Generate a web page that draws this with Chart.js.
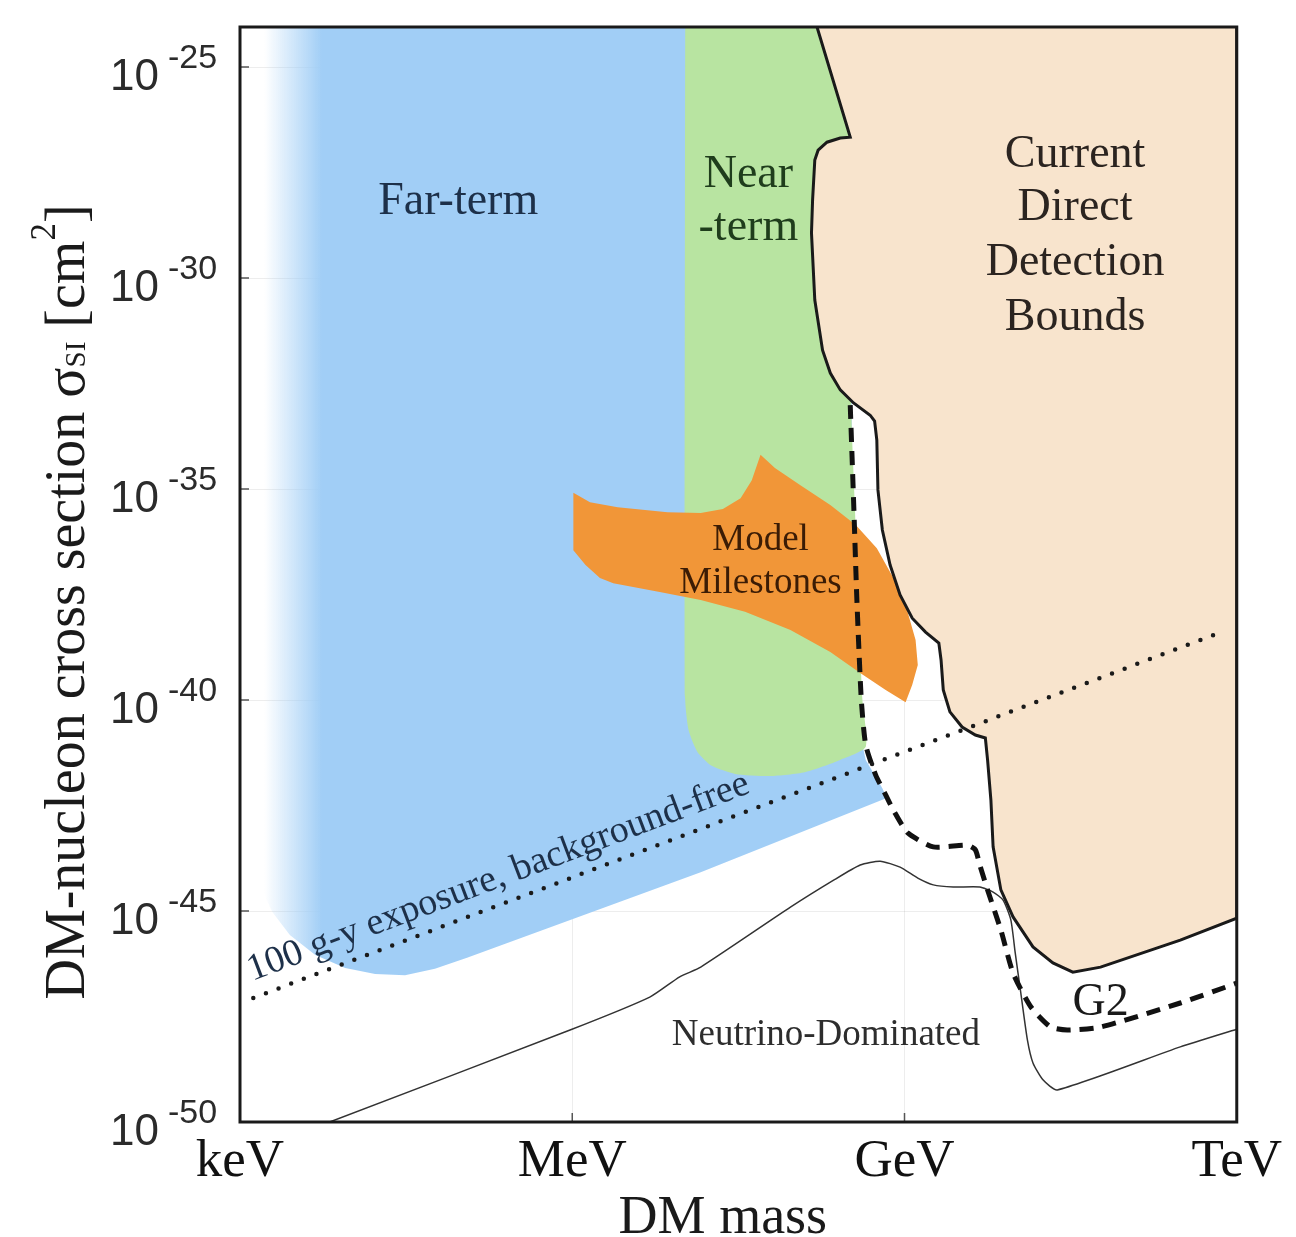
<!DOCTYPE html>
<html>
<head>
<meta charset="utf-8">
<script src="https://cdn.jsdelivr.net/npm/chart.js@4.4.1/dist/chart.umd.min.js"></script>
<style>
  html, body { margin: 0; padding: 0; background: #fff; }
</style>
</head>
<body>
<canvas id="myChart" width="1296" height="1237"></canvas>
<script>
// x: log10(mass / GeV), y: log10(sigma / cm^2)
const massTicks = [-6, -3, 0, 3];
const massLabels = ['keV', 'MeV', 'GeV', 'TeV'];
const sigmaTicks = [-50, -45, -40, -35, -30, -25];
const sigmaTop = -24.05;

/* Far-term region */
const farX = [-5.80, -5.80, -5.71, -5.55, -5.32, -5.05, -4.78, -4.51, -4.24, -3.95, -1.84, -0.16, -0.20, -0.35, -0.43, -0.47, -0.49];
const farY = [-24.05, -44.50, -45.02, -45.57, -46.04, -46.35, -46.49, -46.52, -46.37, -46.11, -44.08, -42.32, -42.09, -41.42, -40.47, -38.82, -24.05];

/* Near-term region */
const nearX = [-1.98, -1.98, -1.95, -1.87, -1.74, -1.53, -1.21, -0.90, -0.58, -0.35, -0.38, -0.42, -0.45, -0.48, -0.48];
const nearY = [-24.05, -40.00, -40.71, -41.23, -41.56, -41.75, -41.80, -41.71, -41.42, -41.11, -40.00, -37.63, -35.26, -33.13, -24.05];

/* Model milestones */
const mileX = [-2.99, -2.84, -2.59, -2.14, -1.84, -1.64, -1.48, -1.38, -1.30, -1.17, -0.94, -0.67, -0.44, -0.25, -0.10, 0.01, 0.10, 0.12, 0.07, 0.01, -0.17, -0.40, -0.67, -1.03, -1.44, -1.84, -2.21, -2.45, -2.63, -2.75, -2.88, -2.99];
const mileY = [-35.09, -35.31, -35.43, -35.55, -35.57, -35.47, -35.22, -34.80, -34.19, -34.50, -34.91, -35.38, -35.85, -36.40, -37.11, -37.75, -38.58, -39.17, -39.64, -40.05, -39.76, -39.36, -38.86, -38.34, -37.91, -37.63, -37.44, -37.32, -37.23, -37.11, -36.80, -36.45];

/* Current direct detection bounds */
const boundX = [-0.79, -0.49, -0.58, -0.70, -0.78, -0.81, -0.83, -0.84, -0.81, -0.74, -0.67, -0.58, -0.46, -0.31, -0.27, -0.25, -0.24, -0.20, -0.13, -0.04, 0.07, 0.19, 0.31, 0.33, 0.35, 0.41, 0.52, 0.64, 0.73, 0.75, 0.78, 0.80, 0.87, 0.98, 1.16, 1.34, 1.52, 1.77, 2.49, 3.00, 3.00];
const boundY = [-24.05, -26.66, -26.68, -26.78, -26.97, -27.20, -28.15, -28.93, -30.52, -31.71, -32.25, -32.65, -32.96, -33.25, -33.39, -33.84, -35.02, -35.97, -36.80, -37.51, -38.06, -38.39, -38.65, -39.05, -39.76, -40.28, -40.64, -40.83, -40.90, -41.42, -42.37, -43.48, -44.50, -45.14, -45.85, -46.23, -46.45, -46.33, -45.69, -45.17, -24.05];

/* G2 projection */
const g2X = [-0.49, -0.46, -0.43, -0.39, -0.35, -0.26, -0.17, -0.10, 0.03, 0.26, 0.57, 0.64, 0.68, 0.75, 0.87, 0.98, 1.14, 1.32, 1.47, 1.77, 2.49, 3.00];
const g2Y = [-33.01, -35.26, -37.63, -40.00, -41.07, -41.78, -42.25, -42.61, -43.15, -43.48, -43.44, -43.55, -43.91, -44.50, -45.45, -46.47, -47.27, -47.75, -47.82, -47.75, -47.18, -46.71];

/* Neutrino floor */
const nuX = [-5.19, -3.02, -2.30, -2.03, -1.84, -1.03, -0.64, -0.40, -0.22, -0.04, 0.12, 0.26, 0.44, 0.68, 0.80, 0.89, 0.96, 1.00, 1.05, 1.11, 1.16, 1.25, 1.38, 2.49, 3.00];
const nuY = [-50.00, -47.82, -47.04, -46.56, -46.33, -44.91, -44.27, -43.91, -43.82, -43.96, -44.22, -44.38, -44.43, -44.43, -44.55, -44.74, -45.21, -46.00, -46.94, -48.06, -48.60, -49.00, -49.24, -48.22, -47.80];

/* 100 g-y exposure, background-free */
const expX = [-5.88, 2.79];
const expY = [-47.06, -38.46];

const SERIF = '"Liberation Serif", "Times New Roman", serif';
const SANS = '"Liberation Sans", Arial, sans-serif';
const BLUE = '#a1cef6';

function pts(xs, ys) {
  return xs.map((x, i) => ({ x: x, y: ys[i] }));
}

function fadeBlue(context) {
  const chart = context.chart;
  const area = chart.chartArea;
  if (!area) return BLUE;
  const x0 = chart.scales.x.getPixelForValue(-5.78);
  const x1 = chart.scales.x.getPixelForValue(-5.26);
  const g = chart.ctx.createLinearGradient(x0, 0, x1, 0);
  g.addColorStop(0, 'rgba(161,206,246,0)');
  g.addColorStop(0.5, 'rgba(161,206,246,0.5)');
  g.addColorStop(1, BLUE);
  return g;
}

const regionLabels = [
  { lines: ['Far-term'], x: -4.03, y: [-28.48], size: 46, color: '#1d3049' },
  { lines: ['Near', '-term'], x: -1.41, y: [-27.84, -29.10], size: 46, color: '#1f3d1c' },
  { lines: ['Current', 'Direct', 'Detection', 'Bounds'], x: 1.54, y: [-27.37, -28.63, -29.93, -31.23], size: 46, color: '#2b2420' },
  { lines: ['Model', 'Milestones'], x: -1.30, y: [-36.45, -37.46], size: 37, color: '#3b1c05' },
  { lines: ['G2'], x: 1.77, y: [-47.46], size: 46, color: '#1a1a1a' },
  { lines: ['Neutrino-Dominated'], x: -0.71, y: [-48.18], size: 37, color: '#2d2d2d' }
];

const decor = {
  id: 'decor',
  afterDatasetsDraw(chart) {
    const { ctx, chartArea: a, scales: { x, y } } = chart;
    ctx.save();
    ctx.textBaseline = 'alphabetic';

    // region labels
    ctx.textAlign = 'center';
    for (const lab of regionLabels) {
      ctx.font = lab.size + 'px ' + SERIF;
      ctx.fillStyle = lab.color;
      lab.lines.forEach((t, i) => {
        ctx.fillText(t, x.getPixelForValue(lab.x), y.getPixelForValue(lab.y[i]));
      });
    }

    // label along the exposure line
    const p0x = x.getPixelForValue(expX[0]), p0y = y.getPixelForValue(expY[0]);
    const p1x = x.getPixelForValue(expX[1]), p1y = y.getPixelForValue(expY[1]);
    const ang = Math.atan2(p1y - p0y, p1x - p0x);
    ctx.save();
    ctx.translate(x.getPixelForValue(-5.89), y.getPixelForValue(-46.66));
    ctx.rotate(ang);
    ctx.textAlign = 'left';
    ctx.font = '38px ' + SERIF;
    ctx.fillStyle = '#1d3049';
    ctx.fillText('100 g-y exposure, background-free', 0, 0);
    ctx.restore();

    // inner tick marks
    ctx.strokeStyle = '#555';
    ctx.lineWidth = 1.5;
    ctx.beginPath();
    for (const v of sigmaTicks) {
      const py = y.getPixelForValue(v);
      ctx.moveTo(a.left, py);
      ctx.lineTo(a.left + 9, py);
    }
    for (const v of massTicks) {
      const px = x.getPixelForValue(v);
      ctx.moveTo(px, a.bottom);
      ctx.lineTo(px, a.bottom - 9);
    }
    ctx.stroke();

    // frame
    ctx.strokeStyle = '#1a1a1a';
    ctx.lineWidth = 3;
    ctx.strokeRect(a.left, a.top, a.right - a.left, a.bottom - a.top);

    // y tick labels 10^n
    ctx.fillStyle = '#2b2b2b';
    for (const v of sigmaTicks) {
      const py = y.getPixelForValue(v);
      ctx.textAlign = 'right';
      ctx.font = '44px ' + SANS;
      ctx.fillText('10', a.left - 81, py + 23);
      ctx.textAlign = 'left';
      ctx.font = '34px ' + SANS;
      ctx.fillText(String(v), a.left - 72, py + 1);
    }

    // y title, rotated, with sub/superscripts
    const runs = [
      ['DM-nucleon cross section \u03c3', 56, 0],
      ['SI', 29, 1],
      [' [cm', 56, 0],
      ['2', 35, -29],
      [']', 56, 0]
    ];
    let total = 0;
    for (const r of runs) {
      ctx.font = r[1] + 'px ' + SERIF;
      r.push(ctx.measureText(r[0]).width);
      total += r[3];
    }
    ctx.save();
    ctx.translate(84, 602);
    ctx.rotate(-Math.PI / 2);
    ctx.textAlign = 'left';
    ctx.fillStyle = '#1a1a1a';
    let pos = -total / 2;
    for (const r of runs) {
      ctx.font = r[1] + 'px ' + SERIF;
      ctx.fillText(r[0], pos, r[2]);
      pos += r[3];
    }
    ctx.restore();

    // x title
    ctx.textAlign = 'center';
    ctx.font = '54px ' + SERIF;
    ctx.fillStyle = '#1a1a1a';
    ctx.fillText('DM mass', x.getPixelForValue(-1.64), a.bottom + 111);

    ctx.restore();
  }
};

const ctx = document.getElementById('myChart').getContext('2d');
// eslint-disable-next-line no-undef
const chart = new Chart(ctx, {
  type: 'scatter',
  data: {
    datasets: [
      {
        label: 'Far-term',
        data: pts(farX, farY),
        showLine: true,
        fill: 'shape',
        backgroundColor: fadeBlue,
        borderWidth: 0,
        pointRadius: 0,
        order: 10
      },
      {
        label: 'Near-term',
        data: pts(nearX, nearY),
        showLine: true,
        fill: 'shape',
        backgroundColor: '#b8e4a1',
        borderWidth: 0,
        pointRadius: 0,
        tension: 0.2,
        order: 9
      },
      {
        label: 'Model Milestones',
        data: pts(mileX, mileY),
        showLine: true,
        fill: 'shape',
        backgroundColor: '#f19638',
        borderWidth: 0,
        pointRadius: 0,
        order: 8
      },
      {
        label: 'Current Direct Detection Bounds',
        data: pts(boundX, boundY),
        showLine: true,
        fill: 'shape',
        backgroundColor: '#f8e4cd',
        borderColor: '#1a1a1a',
        borderWidth: 3,
        pointRadius: 0,
        order: 7
      },
      {
        label: 'Neutrino floor',
        data: pts(nuX, nuY),
        showLine: true,
        fill: false,
        borderColor: '#333',
        borderWidth: 1.5,
        pointRadius: 0,
        tension: 0.2,
        order: 5
      },
      {
        label: 'G2',
        data: pts(g2X, g2Y),
        showLine: true,
        fill: false,
        borderColor: '#111',
        borderWidth: 5,
        borderDash: [14, 9],
        pointRadius: 0,
        tension: 0.2,
        order: 4
      },
      {
        label: '100 g-y exposure',
        data: pts(expX, expY),
        showLine: true,
        fill: false,
        borderColor: '#1a1a1a',
        borderWidth: 4.5,
        borderDash: [0, 13.5],
        borderCapStyle: 'round',
        pointRadius: 0,
        order: 3
      }
    ]
  },
  options: {
    responsive: false,
    devicePixelRatio: 1,
    animation: false,
    layout: { padding: { left: 240, right: 59, top: 27, bottom: 0 } },
    plugins: {
      legend: { display: false },
      tooltip: { enabled: false }
    },
    scales: {
      x: {
        type: 'linear',
        min: -6,
        max: 3,
        afterBuildTicks: (s) => { s.ticks = massTicks.map(v => ({ value: v })); },
        afterFit: (s) => { s.height = 115; },
        ticks: {
          callback: (v, i) => massLabels[i],
          font: { family: SERIF, size: 53, lineHeight: 1 },
          color: '#111',
          padding: 14,
          maxRotation: 0,
          autoSkip: false
        },
        grid: { color: 'rgba(0,0,0,0.07)', drawTicks: false },
        border: { display: false }
      },
      y: {
        type: 'linear',
        min: -50,
        max: sigmaTop,
        afterBuildTicks: (s) => { s.ticks = sigmaTicks.map(v => ({ value: v })); },
        afterFit: (s) => { s.width = 0; },
        ticks: { display: false },
        grid: { color: 'rgba(0,0,0,0.07)', drawTicks: false },
        border: { display: false }
      }
    }
  },
  plugins: [decor]
});
</script>
</body>
</html>
